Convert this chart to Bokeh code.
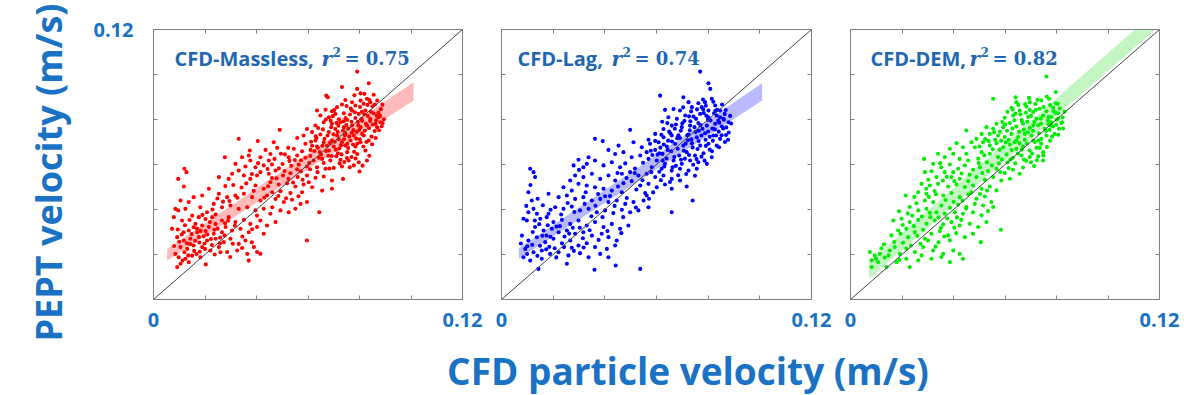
from bokeh.plotting import figure
from bokeh.models import Label, LinearAxis, FixedTicker, Range1d, Div, Title
from bokeh.layouts import row, column
from bokeh.embed import file_html
from bokeh.resources import INLINE

# ---------------- data (velocities in mm/s) ----------------
axis_limits = [0.0, 0.12]
tick_values = [0.0, 0.02, 0.04, 0.06, 0.08, 0.1, 0.12]
tick_labels = {0.0: "0", 0.12: "0.12"}

models = ["CFD-Massless", "CFD-Lag", "CFD-DEM"]
r_squared = ["0.75", "0.74", "0.82"]

massless_points = [
    (79.1,101.3),(73.2,94.4),(83.6,96.1),(79.1,93.6),(67.1,90.6),(67.7,89.9),(81.9,91.4),(82.9,89.2),(80.4,88.4),(77.1,87.7),
    (74.5,88.7),(71.3,85.5),(73.2,86.7),(78.4,86.2),(81.6,87.0),(84.2,87.7),(66.8,84.3),(63.5,84.0),(69.3,83.7),
    (64.8,81.8),(68.1,81.0),(70.6,82.5),(73.9,82.8),(77.1,84.0),(79.7,82.5),(82.3,84.0),(85.5,82.8),(87.5,81.0),(84.2,80.3),
    (81.0,79.5),(78.4,80.7),(75.2,79.8),(72.6,78.8),(69.3,78.1),(66.1,78.8),(62.9,77.3),(59.6,75.8),(82.9,77.3),(80.4,76.6),
    (77.1,77.3),(73.9,76.6),(70.6,75.8),(86.2,78.1),(88.1,78.8),(86.8,76.6),
    (61.6,74.4),(64.8,73.3),(68.1,74.4),(71.3,72.9),(74.5,73.9),(77.8,72.9),(81.0,73.6),(83.6,70.7),(80.4,69.9),(76.5,70.7),
    (73.2,69.9),(69.3,70.7),(66.1,69.9),(62.9,70.7),(59.0,69.2),(55.8,71.8),(49.0,75.4),(58.3,72.9),(70.0,68.0),(74.5,68.4),
    (78.4,68.0),(63.5,68.0),
    (54.5,67.0),(57.7,65.9),(61.0,66.5),(64.6,65.5),(68.1,66.2),(71.6,65.0),(75.2,65.5),(79.1,64.7),(82.3,66.2),(82.9,61.8),
    (79.7,61.0),(75.8,61.8),(72.6,62.1),(68.7,61.8),(65.5,62.5),(62.2,61.8),(59.0,63.0),(55.8,64.0),(52.5,63.2),(52.3,67.4),
    (48.0,67.4),(46.7,69.9),(70.0,58.5),(73.2,59.1),(66.8,58.1),(63.5,58.8),(59.6,59.1),(56.4,60.0),(80.0,56.9),(77.8,59.6),
    (41.5,56.6),(44.8,55.9),(47.4,57.3),(50.3,55.1),(53.2,56.1),(56.0,54.4),(59.6,55.1),(62.9,54.1),(66.1,54.7),(73.6,53.6),
    (69.3,52.9),(45.4,52.1),(48.6,51.1),(51.9,51.7),(55.1,50.2),(58.3,51.1),(61.6,49.9),(69.3,49.2),(65.5,48.4),(42.8,49.2),
    (39.6,50.7),(37.6,53.6),(35.1,55.1),(40.2,55.1),(46.1,47.7),(49.3,48.1),(53.2,47.3),(57.7,47.7),
    (33.1,71.4),(40.5,70.4),(37.4,66.2),(43.5,66.5),(27.7,63.2),(34.4,63.2),(37.6,61.8),(41.5,63.2),(44.8,61.8),(31.8,60.3),
    (35.7,59.1),(39.6,58.8),(42.8,59.6),(33.1,57.3),(30.5,55.9),(29.2,53.6),(37.0,64.0),(45.4,64.7),
    (25.4,47.0),(28.6,45.5),(31.8,46.2),(35.1,47.0),(38.3,45.5),(41.5,44.0),(44.1,46.2),(47.4,44.7),(50.6,43.3),(53.8,44.3),
    (57.1,42.5),(59.6,43.3),(64.4,38.8),(23.4,42.5),(26.6,41.0),(29.9,41.8),(33.1,40.3),(36.4,41.0),(39.6,39.6),(42.8,40.3),
    (46.1,41.0),(49.3,39.6),(52.5,38.8),(55.1,40.3),(20.8,38.8),(24.1,37.8),(45.4,38.1),(40.2,37.3),
    (15.0,37.3),(17.6,36.6),(20.2,35.8),(22.8,36.6),(26.6,35.1),(29.2,36.6),(31.8,34.4),(35.1,35.4),(37.6,33.6),(41.5,35.1),
    (44.1,32.9),(47.4,34.4),(16.3,33.6),(18.9,32.9),(21.5,32.2),(24.1,33.6),(28.0,32.2),(30.5,30.7),(33.8,31.4),(37.0,29.9),
    (13.7,30.7),(17.0,29.9),(20.2,30.4),(23.4,29.2),(26.6,29.9),(40.2,32.2),(42.8,29.2),(7.2,31.4),(9.4,31.1),
    (9.2,27.7),(11.8,26.2),(14.3,27.0),(17.6,27.7),(20.8,26.2),(24.1,27.0),(27.3,25.5),(29.9,27.0),(33.1,24.7),(35.7,26.2),
    (39.0,23.3),(10.5,23.3),(13.1,22.5),(15.6,24.0),(18.9,23.3),(22.1,21.8),(25.4,23.3),(28.6,21.1),(32.5,21.8),(40.2,21.1),
    (8.5,20.3),(59.6,26.2),
    (9.8,18.8),(12.4,18.1),(15.0,19.5),(18.2,18.8),(10.5,15.9),(20.3,15.6),(37.0,17.3),(13.7,16.6),(9.2,14.4),(41.5,20.3),(36.4,20.3),
    (12.0,58.1),(12.8,56.6),(9.6,53.6),(11.8,50.2),(10.5,44.0),(13.7,43.3),(8.5,40.3),(9.6,39.6),(12.4,40.3),(7.9,36.6),
    (11.1,35.1),(18.2,41.0),(15.6,45.5),(25.4,54.4),(21.5,49.2),(18.9,46.2),
    (63.0,72.5),(65.8,75.6),(67.4,68.3),(69.9,73.4),(71.8,77.2),(72.2,67.1),(74.0,71.2),(75.6,76.0),(76.3,82.2),(77.5,68.9),
    (78.9,74.5),(79.4,79.0),(80.9,83.4),(81.5,68.0),(82.1,75.0),(83.2,81.6),(84.7,72.4),(85.0,85.9),(85.9,74.9),(86.5,79.7),
    (87.3,83.0),(88.6,77.0),(83.8,63.9),(81.2,59.5),(76.9,63.3),(74.1,61.1),(71.0,63.7),(67.9,63.9),(64.2,63.0),(60.5,60.7),
    (57.3,61.9),(61.2,70.1),(64.0,76.2),(66.9,80.0),(70.2,84.2),(75.0,86.0),(78.0,90.8),(85.5,91.0),(88.9,86.6),(89.5,80.1),
    (47.0,62.5),(50.1,60.2),(53.5,59.4),(48.7,58.3),(44.3,58.0),(51.0,64.5),(54.9,62.0),(57.2,57.0),(60.8,57.9),(46.0,54.0),
    (52.4,53.6),(55.8,57.9),(43.0,45.2),(48.5,46.0),(51.5,45.0),(56.3,45.9),(38.9,48.3),(34.2,49.8),(31.0,50.9),(27.9,50.4),
    (24.8,44.9),(29.5,43.8),
    (12.2,33.0),(14.8,29.1),(16.9,31.5),(19.5,28.1),(21.9,34.4),(23.6,31.0),(25.9,27.5),(27.8,33.9),(11.0,28.9),(13.0,25.0),
    (16.2,26.1),(19.8,24.9),(22.7,24.2),(26.0,21.0),(30.8,24.8),(12.0,21.0),(15.8,21.6),(18.0,21.2),(11.3,17.3),(8.0,23.8),
    (60.9,63.8),(62.5,66.0),(63.8,67.4),(65.1,64.3),(66.4,71.4),(67.0,66.0),(68.5,69.6),(69.0,76.6),(70.4,70.1),(71.5,74.5),
    (72.8,68.6),(73.6,75.1),(74.6,80.6),(75.3,69.2),(76.0,72.5),(76.9,79.0),(77.6,75.3),(78.2,83.2),(78.7,71.5),(79.5,77.4),
    (80.2,85.6),(80.8,80.3),(81.7,72.9),(82.5,78.1),(83.1,86.5),(83.7,76.2),(84.4,83.5),(85.2,77.8),(86.0,86.7),(86.7,81.7),
    (87.6,75.2),(88.3,84.6),(89.0,78.4),(74.9,77.6),(72.0,80.1),(69.6,81.5),(67.6,72.9),(65.6,68.3),(63.3,71.8),(61.6,68.3),
    (70.8,66.6),(73.0,64.5),(75.6,67.3),(77.9,65.7),(80.1,71.2),(82.7,70.0),(84.9,69.0),(86.3,71.8),(78.5,62.7),(76.2,58.8),
    (72.3,60.5),(69.2,63.8),(66.1,60.7),(71.9,71.2),(74.3,73.0),(77.0,74.1),(79.9,75.3),(81.9,82.3),(83.8,88.8),(80.4,91.6),
    (76.6,84.9),(73.8,79.2),(71.1,78.5),(68.8,79.5),(86.9,88.4),(88.0,81.6),(84.1,79.3),(79.2,69.3),(75.1,62.9),(68.3,58.2),
    (44.5,50.3),(47.8,53.9),(50.9,57.1),(54.2,52.0),(57.9,53.2),(60.3,52.1),(63.7,56.6),(52.8,61.6),(49.5,64.8),(46.0,60.0),
    (40.6,60.6),(38.2,55.8),(36.0,51.6),(32.6,45.2),(27.0,43.5),(22.9,40.0),(19.0,37.6),(14.0,35.3),(15.6,32.1),(18.3,30.5),
    (20.9,28.9),(24.9,31.5),(27.6,28.5),(31.6,32.8),(34.5,28.0),(38.3,31.2),(29.0,35.0),(25.8,25.0),(22.3,26.9),(17.8,25.3),
    (14.3,24.6),(11.7,29.9),(10.0,25.7),(13.5,19.6),(16.7,20.2),(20.0,22.5),(23.8,20.0),(29.8,18.9),(34.4,22.9),(38.2,25.4),
]

lag_points = [
    (76.9,101.3),(80.1,96.1),(80.8,93.6),(61.4,90.6),(70.4,89.9),(76.2,87.2),(81.4,89.2),(78.8,87.7),(72.4,87.7),(66.6,84.7),
    (69.1,84.0),(73.7,85.5),(77.5,85.5),(82.7,86.2),(84.6,84.0),(80.1,84.0),(63.3,84.3),
    (64.6,81.0),(67.9,80.3),(71.1,81.8),(74.3,81.3),(76.9,82.5),(80.1,81.0),(83.3,81.8),(85.9,80.3),(87.9,78.8),(82.7,78.1),
    (79.5,77.3),(76.2,78.4),(73.0,77.3),(69.8,76.6),(65.9,77.3),(62.7,75.8),(85.3,76.9),(49.8,75.4),
    (59.5,73.6),(62.7,72.1),(65.9,72.9),(69.1,71.8),(72.4,73.3),(75.6,72.1),(78.8,73.9),(82.0,72.9),(84.6,71.4),(83.3,68.4),
    (80.1,69.2),(76.9,68.4),(73.7,69.5),(70.4,68.4),(67.2,69.2),(64.0,68.0),(60.8,69.9),(57.5,69.2),(56.9,71.0),(36.2,71.4),
    (39.2,70.4),(45.3,68.4),(51.1,69.9),(54.3,67.7),
    (56.2,65.5),(59.5,66.5),(62.3,64.7),(65.7,65.9),(68.8,64.0),(71.7,65.5),(74.9,64.0),(78.2,65.0),(81.4,63.2),(79.5,60.3),
    (76.2,61.0),(73.0,61.8),(69.8,60.3),(66.6,61.8),(63.3,60.3),(60.1,61.8),(56.9,62.5),(53.7,64.0),(50.4,63.2),(47.2,65.5),
    (44.0,64.7),(41.4,66.5),(72.4,57.3),(69.1,58.1),(65.9,57.3),(62.0,58.1),(58.2,58.8),(75.6,58.1),(29.8,62.1),(33.0,60.3),
    (36.2,61.8),(39.5,59.6),(42.7,61.0),(33.7,63.2),(31.7,58.8),(45.9,58.8),
    (46.6,55.9),(49.8,56.6),(53.0,55.1),(56.2,55.9),(59.5,54.4),(62.7,55.1),(65.9,53.6),(69.1,52.9),(71.7,50.2),(44.0,52.9),
    (47.2,51.7),(50.4,52.6),(53.7,50.7),(56.9,51.4),(60.1,49.9),(63.3,51.1),(65.9,49.2),(41.4,55.1),(38.2,53.6),(35.0,55.9),
    (31.7,54.4),(28.5,55.1),(26.6,52.9),(29.8,51.4),(33.0,50.7),(36.2,49.9),(39.5,49.2),(42.7,48.4),(46.6,47.7),(55.6,47.3),
    (24.0,49.9),(27.2,48.4),
    (18.2,47.0),(22.1,45.5),(25.3,46.2),(28.5,44.7),(31.7,45.5),(35.0,44.0),(38.2,44.7),(41.4,43.3),(44.6,44.0),(47.9,42.5),
    (51.1,43.3),(55.0,44.0),(74.0,44.0),(20.8,41.0),(24.0,40.3),(27.2,41.3),(30.4,39.6),(33.7,40.3),(36.9,38.8),(40.1,39.6),
    (43.3,38.4),(46.6,39.9),(49.8,38.8),(53.0,39.6),(56.9,41.0),(65.9,38.8),(56.2,46.2),
    (15.0,35.9),(17.5,36.6),(20.1,34.4),(23.4,35.4),(26.6,33.6),(29.8,35.1),(33.0,32.9),(36.2,34.4),(39.5,32.2),(42.7,33.6),
    (45.9,31.4),(49.1,32.9),(13.0,32.2),(16.3,30.7),(19.5,31.4),(22.1,29.9),(25.3,30.7),(28.5,29.2),(31.7,29.9),(35.0,28.4),
    (38.8,29.2),(41.4,27.7),(44.6,26.2),(11.1,58.1),(12.4,56.6),(13.0,54.4),(11.7,44.0),(12.4,40.3),(10.4,38.8),(9.8,35.1),
    (8.5,35.9),(13.7,38.1),(10.4,47.7),(18.2,38.1),
    (7.9,28.4),(10.4,26.2),(13.7,27.7),(16.9,25.5),(20.1,27.0),(23.4,25.0),(26.6,26.2),(29.8,24.0),(33.0,25.0),(36.2,23.3),
    (40.8,22.5),(44.0,24.0),(9.2,22.5),(12.4,21.0),(15.6,21.8),(18.8,20.3),(22.1,21.0),(25.9,19.6),(30.4,20.6),(33.7,18.8),
    (8.5,18.8),(11.1,17.3),(15.6,18.1),(53.7,13.6),(44.2,15.1),(36.0,13.2),(25.3,15.9),(14.3,13.6),(41.4,18.8),(38.2,20.3),
    (62.2,79.0),(64.9,74.6),(67.5,77.8),(70.8,79.4),(72.9,75.2),(75.3,80.3),(77.8,75.9),(79.9,79.9),(81.6,76.0),(83.9,79.5),
    (86.4,82.5),(84.1,74.6),(86.9,73.1),(88.5,81.6),(79.0,71.0),(75.9,66.9),(72.1,70.8),(68.2,67.0),(64.5,70.6),(61.5,67.5),
    (58.4,64.2),(63.9,62.7),(67.5,59.4),(71.0,62.6),(74.2,59.9),(77.4,63.5),(80.6,66.6),(82.8,83.9),(78.3,82.9),(73.4,83.6),
    (47.9,60.5),(51.7,58.2),(54.8,60.8),(44.9,56.2),(52.2,48.9),(58.7,47.6),(61.7,53.0),(48.5,45.1),(37.4,46.9),(32.6,47.7),
    (30.0,57.6),(27.9,59.6),(42.0,46.0),(25.6,42.9),(34.8,37.0),
    (12.1,30.0),(14.6,33.5),(17.9,33.0),(21.3,32.4),(24.4,28.0),(27.6,31.9),(11.9,24.3),(14.9,23.9),(18.5,23.4),(21.2,18.7),
    (9.9,20.2),(31.5,27.2),(7.5,24.9),(17.4,28.4),(27.2,23.0),
    (61.1,65.0),(62.8,68.9),(64.3,66.5),(65.4,73.8),(66.9,63.3),(68.0,71.7),(69.4,75.0),(70.6,66.1),(71.9,73.0),(73.1,79.2),
    (74.0,67.6),(75.1,74.4),(76.3,70.4),(77.0,77.5),(78.1,84.5),(79.1,68.3),(80.0,74.7),(80.9,79.6),(81.8,70.6),(82.6,75.6),
    (83.5,84.3),(84.3,78.6),(85.2,73.0),(86.1,79.9),(87.0,76.5),(87.7,71.0),(88.9,78.2),(85.4,86.7),(82.0,87.9),(79.1,86.1),
    (75.7,84.5),(72.6,81.4),(70.0,78.3),(67.1,75.9),(64.2,78.4),(61.9,73.2),(59.5,70.5),(60.4,64.4),(63.0,59.1),(66.2,58.8),
    (69.5,62.1),(72.6,64.2),(75.5,62.4),(78.6,61.7),(81.5,65.9),(84.2,67.7),(86.5,70.0),(77.4,72.9),(74.7,76.6),(71.3,69.3),
    (68.5,73.0),(66.0,70.2),(80.6,72.3),(83.1,72.9),(85.8,76.0),(73.5,71.2),(76.4,75.0),(79.3,81.7),(82.3,82.8),(84.6,81.0),
    (78.0,88.9),(86.8,84.2),(88.0,74.2),(62.4,61.8),(57.8,66.1),(71.5,55.8),(74.9,55.0),(68.4,55.2),(65.2,52.2),(70.3,85.4),
    (45.1,50.2),(48.4,54.0),(51.6,56.2),(54.6,53.0),(58.0,56.6),(61.1,56.8),(57.1,44.8),(52.0,40.9),(47.1,36.6),(43.8,41.6),
    (40.1,45.9),(36.4,41.7),(32.2,42.5),(28.2,38.9),(23.1,37.8),(19.0,39.9),(16.0,41.9),(14.0,44.8),(11.2,50.9),(9.6,41.6),
    (12.9,35.1),(15.8,28.3),(18.9,27.9),(22.6,32.6),(26.2,29.3),(30.3,31.9),(34.1,30.8),(37.6,26.5),(41.0,30.4),(24.2,23.3),
    (20.6,22.8),(17.3,22.3),(13.9,19.4),(10.0,23.7),(28.0,21.6),(31.8,23.1),(46.4,29.5),(39.1,36.6),
]

dem_points = [
    (76.1,99.1),(79.7,92.2),(55.4,89.2),(64.1,89.9),(69.6,87.7),(74.1,88.5),(77.1,89.2),(45.0,75.1),(28.6,62.5),(21.4,46.2),
    (58.4,31.0),(50.6,25.5),(34.0,64.8),
    (62.5,85.2),(65.7,84.0),(68.3,85.8),(70.9,83.3),(73.5,84.8),(76.1,83.7),(78.7,85.2),(80.6,82.8),(78.0,81.1),(74.8,81.8),
    (72.2,80.3),(69.0,81.1),(66.4,79.9),(63.2,81.8),(59.9,80.8),(80.0,79.9),(76.7,79.6),(69.6,84.3),(64.4,87.7),(81.9,78.4),
    (56.7,78.1),(59.3,76.6),(61.9,78.4),(64.4,76.9),(67.0,78.1),(69.6,76.3),(72.9,77.4),(75.4,75.9),(78.7,76.9),(81.0,75.9),
    (79.3,73.6),(76.1,72.9),(73.2,73.9),(70.3,72.9),(67.7,73.6),(65.1,72.2),(62.5,73.6),(59.9,72.2),(57.3,72.9),(54.1,73.6),
    (55.4,75.9),(70.9,70.7),(67.7,71.0),(74.1,71.4),(64.4,70.7),
    (51.5,69.9),(54.1,68.5),(56.7,69.5),(59.3,67.7),(61.9,68.9),(64.4,67.0),(67.0,68.0),(69.6,66.2),(72.2,67.4),(74.8,65.5),
    (72.9,63.6),(69.6,63.3),(66.4,64.0),(63.1,63.0),(60.6,64.5),(57.3,63.3),(54.1,64.8),(50.9,65.5),(48.3,67.7),(47.0,69.9),
    (48.9,71.4),(50.9,73.6),(52.8,76.6),(41.2,69.5),(43.7,67.7),(38.6,67.0),(36.6,63.3),(39.9,64.8),(45.0,64.8),(42.4,62.5),
    (45.7,61.8),(74.8,61.8),(78.0,78.8),
    (32.1,60.3),(35.3,58.8),(38.6,60.0),(41.8,58.1),(44.4,59.6),(47.6,57.7),(50.2,58.8),(53.4,57.1),(56.7,58.1),(59.9,56.2),
    (63.1,57.7),(65.7,55.9),(61.9,53.7),(58.6,52.9),(55.4,54.4),(52.2,53.2),(48.9,54.4),(45.7,52.6),(42.4,53.7),(39.2,54.4),
    (35.9,52.9),(33.4,54.4),(30.2,53.2),(27.6,51.4),(30.8,50.7),(34.0,51.4),(37.9,50.2),(41.2,51.1),(44.4,50.0),(47.6,50.7),
    (50.9,49.2),(54.1,50.2),(56.7,48.5),(28.9,56.6),(39.9,56.6),(36.6,56.6),
    (26.3,47.7),(29.5,47.0),(32.7,48.2),(36.0,46.2),(39.2,47.3),(42.4,45.5),(45.7,46.7),(48.9,44.8),(52.2,45.8),(54.7,43.3),
    (51.5,41.8),(48.3,42.5),(45.0,41.1),(41.8,42.2),(38.6,40.8),(35.3,41.8),(32.1,43.3),(28.9,44.0),(25.6,42.8),(23.0,41.1),
    (26.3,39.6),(29.5,40.3),(33.4,38.8),(36.6,38.1),(40.5,38.8),(43.7,38.1),(47.6,38.8),(50.9,37.4),(53.4,39.3),(55.4,41.1),
    (16.6,35.1),(19.8,35.9),(23.0,34.4),(26.3,35.4),(29.5,33.7),(32.7,35.1),(36.0,33.4),(39.2,34.4),(42.4,32.9),(46.3,33.7),
    (49.6,32.2),(52.8,34.4),(18.5,30.7),(21.7,31.4),(25.0,30.0),(28.2,31.0),(31.4,29.2),(34.7,30.4),(37.9,28.5),(41.1,29.5),
    (44.4,27.7),(28.9,27.0),(22.4,27.7),(15.9,28.5),(38.6,26.3),(47.6,29.2),
    (7.5,21.1),(9.4,19.6),(11.4,20.3),(8.2,17.4),(10.7,16.6),(13.3,18.6),(15.3,21.8),(19.2,20.3),(21.7,22.6),(25.0,21.1),
    (28.2,23.3),(32.1,21.8),(36.0,20.3),(39.9,21.8),(17.9,16.6),(21.7,18.1),(26.3,17.4),(31.4,18.1),(35.3,18.9),(42.4,20.3),
    (43.7,18.1),(38.6,16.6),(8.2,14.4),(17.2,23.3),(14.0,14.4),(23.0,14.4),(27.6,19.6),
    (60.8,75.0),(63.6,79.7),(66.0,82.3),(68.6,79.0),(71.4,78.9),(73.9,80.4),(76.8,77.9),(79.6,82.9),(82.4,80.9),(83.1,83.5),
    (80.5,87.0),(77.5,86.4),(71.8,86.9),(67.3,75.5),(70.9,75.0),(74.0,69.3),(77.5,70.6),(65.6,69.5),(62.6,66.4),(58.5,70.6),
    (55.2,66.8),(52.3,71.3),(49.6,62.6),(53.0,61.0),(57.6,60.5),(61.0,60.9),(68.2,61.7),(71.3,59.3),
    (24.0,37.3),(31.0,36.6),(27.2,24.8),(34.2,25.4),(20.4,25.2),(13.0,24.5),(18.8,39.2),(30.4,45.6),(43.0,35.4),(35.1,31.9),
    (58.0,74.6),(60.1,77.8),(61.4,71.0),(62.9,76.0),(64.0,82.6),(65.5,74.5),(66.6,79.1),(67.8,86.9),(68.9,74.3),(70.1,81.6),
    (71.0,77.4),(72.0,84.3),(73.0,70.7),(74.0,78.1),(75.0,85.6),(75.9,74.9),(76.9,81.1),(77.8,77.3),(78.9,83.7),(79.9,77.7),
    (80.6,80.4),(81.3,84.9),(82.2,78.8),(76.2,90.2),(72.6,88.8),(68.1,83.0),(65.2,86.5),(63.0,84.4),(60.9,83.4),(59.0,78.9),
    (56.2,71.0),(57.9,66.6),(60.3,69.9),(63.7,69.9),(66.5,66.6),(68.5,69.3),(71.6,70.0),(73.5,67.4),(76.3,67.8),(78.3,72.4),
    (80.7,73.2),(82.6,76.0),(70.5,64.9),(67.3,62.2),(64.0,60.5),(61.4,58.4),(58.1,56.7),(54.9,59.6),(52.0,64.1),(50.1,68.0),
    (53.6,70.5),(55.8,74.3),(58.8,62.2),(62.1,62.2),(65.0,64.9),(67.0,58.7),(70.1,61.0),(72.4,61.9),(74.9,64.0),(77.3,75.4),
    (79.7,87.2),(69.3,89.6),
    (46.3,55.5),(49.8,60.6),(51.2,56.2),(43.1,56.0),(40.3,52.6),(37.4,54.5),(34.8,60.6),(31.5,57.0),(29.4,49.2),(33.2,46.8),
    (36.9,44.2),(40.0,43.4),(43.5,44.0),(46.9,47.7),(50.3,46.9),(53.0,48.4),(24.8,45.6),(22.2,38.2),(20.3,33.1),(24.6,32.6),
    (27.7,36.9),(30.8,38.6),(34.2,36.5),(37.6,36.0),(41.3,36.5),(44.9,40.4),(30.1,26.2),(26.0,28.3),(19.4,29.2),(17.0,25.6),
    (23.5,24.0),(12.0,22.8),(14.8,19.6),(9.9,18.1),(19.0,17.6),(33.0,23.5),(36.4,28.0),(40.3,31.9),
]

# regression confidence bands (mm/s): x, lower edge, upper edge
massless_band_x = [5.3, 101.0]
massless_band_lo = [17.3, 88.4]
massless_band_hi = [22.5, 96.6]
lag_band_x = [6.7, 100.9]
lag_band_lo = [18.1, 88.4]
lag_band_hi = [22.8, 96.1]
dem_band_x = [7.1, 120.0]
dem_band_lo = [9.0, 121.5]
dem_band_hi = [16.6, 129.5]

# ---------------- styling ----------------
LABEL_BLUE = "#1a72c4"
TITLE_BLUE = "#1f68b1"
FRAME_GRAY = "#808080"

panels = [
    dict(name=models[0], r2=r_squared[0], pts=massless_points, bx=massless_band_x, blo=massless_band_lo, bhi=massless_band_hi,
         color="#ff0000", band="#ff0000", width=484, bl=153, br=22, title_dx=21, r_dx=168),
    dict(name=models[1], r2=r_squared[1], pts=lag_points, bx=lag_band_x, blo=lag_band_lo, bhi=lag_band_hi,
         color="#0000ff", band="#0000ff", width=349, bl=17, br=22, title_dx=16, r_dx=110),
    dict(name=models[2], r2=r_squared[2], pts=dem_points, bx=dem_band_x, blo=dem_band_lo, bhi=dem_band_hi,
         color="#00ee00", band="#22dd22", width=351, bl=17, br=25, title_dx=20, r_dx=119),
]


def lab(p, text, dx, dy, size, font="Open Sans", style="bold"):
    p.add_layout(Label(x=axis_limits[0], y=axis_limits[1], x_offset=dx, y_offset=dy, text=text,
                       text_font=font, text_font_style=style, text_font_size=size, text_color=TITLE_BLUE,
                       text_align="left", text_baseline="alphabetic"))


def style_axis(ax, labels):
    ax.ticker = FixedTicker(ticks=tick_values)
    ax.major_label_overrides = {t: labels.get(t, "") for t in tick_values}
    ax.major_tick_in = 4
    ax.major_tick_out = 0
    ax.minor_tick_in = 0
    ax.minor_tick_out = 0
    ax.axis_line_color = FRAME_GRAY
    ax.major_tick_line_color = FRAME_GRAY
    ax.major_label_text_font = "Open Sans"
    ax.major_label_text_font_style = "bold"
    ax.major_label_text_font_size = "20px"
    ax.major_label_text_color = LABEL_BLUE


figs = []
for i, pn in enumerate(panels):
    p = figure(width=pn["width"], height=344, x_range=Range1d(*axis_limits), y_range=Range1d(*axis_limits),
               min_border_left=pn["bl"], min_border_right=pn["br"], min_border_top=29, min_border_bottom=45,
               output_backend="svg", toolbar_location=None)
    above = LinearAxis()
    right = LinearAxis()
    p.add_layout(above, "above")
    p.add_layout(right, "right")
    xaxis = p.below[0]
    yaxis = p.left[0]
    style_axis(xaxis, tick_labels)
    xaxis.major_label_standoff = 13
    style_axis(yaxis, {0.12: tick_labels[0.12]} if i == 0 else {})
    yaxis.major_label_standoff = 20
    style_axis(above, {})
    style_axis(right, {})
    above.major_label_standoff = 0
    right.major_label_standoff = 0
    if i == 0:
        p.add_layout(Title(text="PEPT velocity (m/s)", align="left", offset=-42, standoff=36,
                           text_font="Open Sans", text_font_style="bold", text_font_size="36px",
                           text_color=LABEL_BLUE), "left")
    p.xgrid.visible = False
    p.ygrid.visible = False
    p.outline_line_color = FRAME_GRAY
    p.background_fill_color = "white"
    p.border_fill_color = "white"

    xs = [a / 1000 for a, b in pn["pts"]]
    ys = [b / 1000 for a, b in pn["pts"]]
    p.varea(x=[v / 1000 for v in pn["bx"]], y1=[v / 1000 for v in pn["blo"]],
            y2=[v / 1000 for v in pn["bhi"]], fill_color=pn["band"], fill_alpha=0.27)
    p.scatter(xs, ys, size=4.1, marker="circle", fill_color=pn["color"], line_color=None)
    p.line(axis_limits, axis_limits, line_color="#444444", line_width=1)

    # panel title: "<model>, r² = value"
    lab(p, pn["name"] + ",", pn["title_dx"], -29, "20px")
    lab(p, "r", pn["r_dx"], -29, "20px", font="DejaVu Serif", style="bold italic")
    lab(p, "2", pn["r_dx"] + 11, -22, "12px", font="DejaVu Serif")
    lab(p, "= " + pn["r2"], pn["r_dx"] + 23, -29, "18px", font="DejaVu Serif")
    figs.append(p)

xlabel = Div(text=("<div style=\"font-family:'Open Sans';font-weight:bold;font-size:37px;line-height:43px;"
                   "color:%s;text-align:center;box-sizing:border-box;width:1184px;padding-left:182px;"
                   "white-space:nowrap;\">CFD particle velocity (m/s)</div>") % LABEL_BLUE, width=1184, height=51)

layout = column(row(*figs), xlabel)
open("out.html", "w").write(file_html(layout, INLINE))
